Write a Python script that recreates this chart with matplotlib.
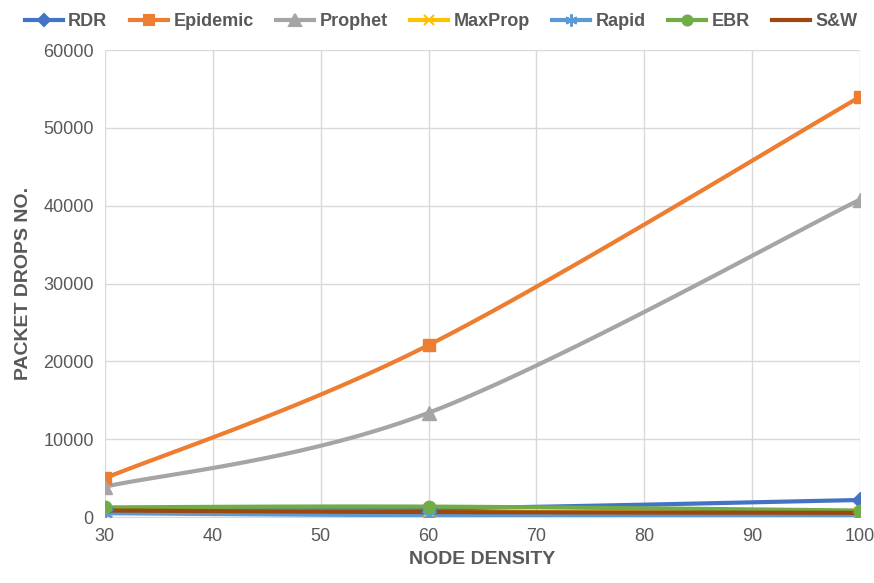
import matplotlib
matplotlib.use('Agg')
import matplotlib.pyplot as plt
import numpy as np

# node density values on the x axis
DENSITY = [30, 60, 100]

RDR = [1000, 1100, 2200]
EPIDEMIC = [5000, 22100, 54000]
PROPHET = [3900, 13400, 40800]
MAXPROP = [800, 650, 550]
RAPID = [500, 250, 250]
EBR = [1250, 1350, 850]
SW = [850, 650, 550]

SERIES = [
    ('RDR', RDR, '#4472C4', 'D', 8),
    ('Epidemic', EPIDEMIC, '#ED7D31', 's', 9),
    ('Prophet', PROPHET, '#A5A5A5', '^', 10),
    ('MaxProp', MAXPROP, '#FFC000', 'x', 9),
    ('Rapid', RAPID, '#5B9BD5', (6, 2, 0), 11),
    ('EBR', EBR, '#70AD47', 'o', 9),
    ('S&W', SW, '#9E480E', None, 0),
]

GREY = '#595959'


# Cardinal spline through the points, like Excel's smoothed line
def smooth(xs, ys, steps=40, tension=0.5):
    xs = np.asarray(xs, float)
    ys = np.asarray(ys, float)
    px = np.concatenate([[xs[0]], xs, [xs[-1]]])
    py = np.concatenate([[ys[0]], ys, [ys[-1]]])
    outx, outy = [], []
    for i in range(1, len(px) - 2):
        t = np.linspace(0, 1, steps)
        mx0 = tension * (px[i + 1] - px[i - 1])
        mx1 = tension * (px[i + 2] - px[i])
        my0 = tension * (py[i + 1] - py[i - 1])
        my1 = tension * (py[i + 2] - py[i])
        h00 = 2 * t**3 - 3 * t**2 + 1
        h10 = t**3 - 2 * t**2 + t
        h01 = -2 * t**3 + 3 * t**2
        h11 = t**3 - t**2
        outx.extend(h00 * px[i] + h10 * mx0 + h01 * px[i + 1] + h11 * mx1)
        outy.extend(h00 * py[i] + h10 * my0 + h01 * py[i + 1] + h11 * my1)
    return outx, outy


plt.rcParams['font.family'] = ['Liberation Sans', 'DejaVu Sans']

fig = plt.figure(figsize=(8.74, 5.83), dpi=100)
ax = fig.add_axes([0.12, 0.113, 0.864, 0.801])

for name, vals, col, mk, ms in SERIES:
    sx, sy = smooth(DENSITY, vals)
    ax.plot(sx, sy, color=col, lw=3, solid_capstyle='round', zorder=3)
    if mk:
        mew = 1.5 if mk in ('x', (6, 2, 0)) else 1
        ax.plot(DENSITY, vals, linestyle='none', marker=mk, markersize=ms,
                color=col, markeredgewidth=mew, zorder=4)

# legend proxies
handles = []
for name, vals, col, mk, ms in SERIES:
    h, = ax.plot([], [], color=col, lw=3, marker=mk,
                 markersize=(ms * 0.8) if mk else 0, markeredgewidth=1.5)
    handles.append(h)
leg = fig.legend(handles, [s[0] for s in SERIES], loc='upper center',
                 bbox_to_anchor=(0.505, 1.005), ncol=7, frameon=False,
                 handlelength=2.1, columnspacing=1.25, handletextpad=0.3,
                 prop={'size': 13, 'weight': 'bold'})
for t in leg.get_texts():
    t.set_color(GREY)

ax.set_xlim(30, 100)
ax.set_ylim(0, 60000)
ax.set_xticks(range(30, 101, 10))
ax.set_yticks(range(0, 60001, 10000))
ax.grid(True, color='#D9D9D9', lw=1)
ax.set_axisbelow(True)
for s in ax.spines.values():
    s.set_visible(False)
ax.spines['bottom'].set_visible(True)
ax.spines['bottom'].set_color('#D9D9D9')
ax.tick_params(length=0, labelsize=13, colors=GREY, pad=8)

ax.set_xlabel('NODE DENSITY', fontsize=14, fontweight='bold', color=GREY, labelpad=4)
ax.set_ylabel('PACKET DROPS NO.', fontsize=14, fontweight='bold', color=GREY, labelpad=8)

fig.savefig('out.png', dpi=100)
